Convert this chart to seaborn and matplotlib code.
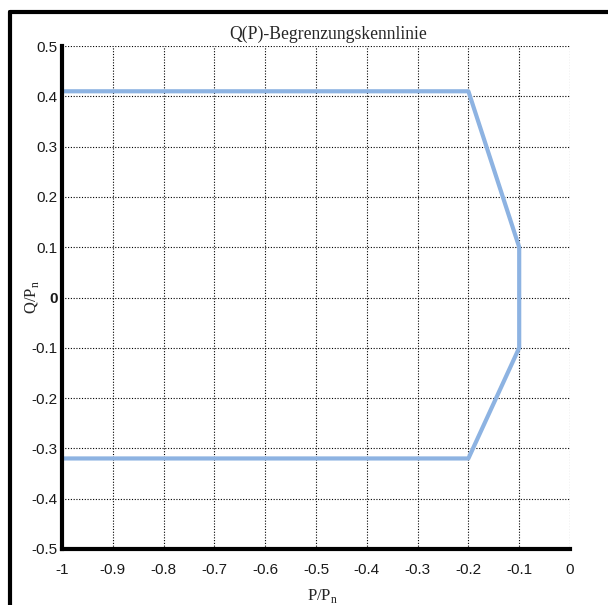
import matplotlib
matplotlib.use("Agg")
import matplotlib.pyplot as plt
import seaborn as sns
import pandas as pd
from matplotlib.lines import Line2D

p_vals = [-1.0, -0.2, -0.1, -0.1, -0.2, -1.0]
q_vals = [0.41, 0.41, 0.1, -0.1, -0.32, -0.32]
x_ticks = [-1, -0.9, -0.8, -0.7, -0.6, -0.5, -0.4, -0.3, -0.2, -0.1, 0]
x_labels = ["-1", "-0.9", "-0.8", "-0.7", "-0.6", "-0.5", "-0.4", "-0.3", "-0.2", "-0.1", "0"]
y_ticks = [0.5, 0.4, 0.3, 0.2, 0.1, 0, -0.1, -0.2, -0.3, -0.4, -0.5]
y_labels = ["0.5", "0.4", "0.3", "0.2", "0.1", "0", "-0.1", "-0.2", "-0.3", "-0.4", "-0.5"]

sns.set_theme(style="white")
plt.rcParams['font.family'] = ['Liberation Sans', 'DejaVu Sans']
plt.rcParams['mathtext.fontset'] = 'custom'
plt.rcParams['mathtext.rm'] = 'Liberation Serif'

df = pd.DataFrame({"P": p_vals, "Q": q_vals, "order": range(len(p_vals))})

fig = plt.figure(figsize=(6.08, 6.05), dpi=100)
ax = fig.add_axes([62/608, 1-549/605, (570-62)/608, (549-46)/605])

sns.lineplot(data=df, x="P", y="Q", sort=False, ax=ax, color="#8DB3E2", lw=3, estimator=None)

ax.set_xlim(-1, 0)
ax.set_ylim(-0.5, 0.5)
ax.set_xticks(x_ticks)
ax.set_xticklabels(x_labels)
ax.set_yticks(y_ticks)
ax.set_yticklabels(y_labels)
for lbl in ax.get_yticklabels():
    if lbl.get_text() == "0":
        lbl.set_fontweight("bold")
ax.tick_params(axis="both", length=0, labelsize=11, colors="#1a1a1a", pad=3)
ax.tick_params(axis="x", pad=10)

ax.grid(True, color="black", linestyle=(0, (1, 1.5)), linewidth=0.8)
ax.set_axisbelow(True)

for s in ["top", "right"]:
    ax.spines[s].set_visible(False)
for s in ["left", "bottom"]:
    ax.spines[s].set_visible(True)
    ax.spines[s].set_linewidth(3)
    ax.spines[s].set_color("black")

ax.set_title("Q(P)-Begrenzungskennlinie", family="Liberation Serif", fontsize=12.7, pad=5, x=0.524)
ax.set_xlabel("P/P$_\\mathregular{n}$", family="Liberation Serif", fontsize=12)
ax.set_ylabel("Q/P$_\\mathregular{n}$", family="Liberation Serif", fontsize=12)
ax.xaxis.set_label_coords(0.513, -0.075)
ax.yaxis.set_label_coords(-0.042, 0.5)

# outer frame
fig.add_artist(Line2D([10/608, 10/608], [1-12/605, -0.05], transform=fig.transFigure, color="black", lw=3))
fig.add_artist(Line2D([10/608, 1.05], [1-12/605, 1-12/605], transform=fig.transFigure, color="black", lw=3))

fig.savefig("out.png", dpi=100)
